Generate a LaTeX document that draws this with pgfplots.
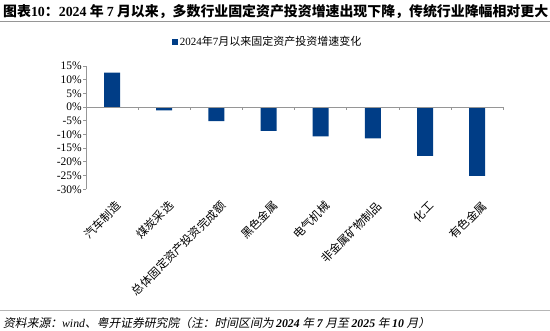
\documentclass[border=0pt]{standalone}
\usepackage{graphicx}
\usepackage{pgfplots}
\pgfplotsset{compat=1.18}
\usepackage{pgfplotstable}
\usepackage{fontspec}
\setmainfont{Liberation Serif}
\newfontfamily\cjk{Noto Sans CJK SC}
\newfontfamily\cjkit[FakeSlant=0.2]{Noto Sans CJK SC}
\definecolor{barblue}{RGB}{0,61,134}
\definecolor{axgray}{RGB}{150,150,150}
\pgfplotstableread{
x y
0 12.6
1 -1.2
2 -5.1
3 -8.7
4 -10.7
5 -11.4
6 -17.8
7 -25.1
}\datatable
\begin{document}
\begin{tikzpicture}
\useasboundingbox (0,0) rectangle (550bp,331bp);
% title
\node[anchor=west, inner sep=0] at (3bp,319bp) {\resizebox{545bp}{!}{\cjk\bfseries\fontsize{13.5bp}{15bp}\selectfont 图表{\rmfamily\bfseries 10}：{\rmfamily\bfseries 2024} 年 {\rmfamily\bfseries 7} 月以来，多数行业固定资产投资增速出现下降，传统行业降幅相对更大}};
\draw[axgray, line width=1bp] (0,309bp) -- (550bp,309bp);
% footer
\draw[axgray!70, line width=0.8bp] (0,21bp) -- (550bp,21bp);
\node[anchor=west, inner sep=0] at (3bp,8.3bp) {\resizebox{427bp}{!}{\cjkit\fontsize{11bp}{13bp}\selectfont 资料来源：{\rmfamily\itshape wind}、粤开证券研究院（注：时间区间为 {\rmfamily\bfseries\itshape 2024} 年 {\rmfamily\bfseries\itshape 7} 月至 {\rmfamily\bfseries\itshape 2025} 年 {\rmfamily\bfseries\itshape 10} 月）}};
\begin{axis}[
  at={(86bp,141.7bp)}, anchor=south west,
  scale only axis, width=417.3bp, height=123.3bp,
  xmin=-0.5, xmax=7.5, ymin=-30, ymax=15,
  axis x line*=bottom, axis y line*=left,
  x axis line style={draw=none},
  y axis line style={axgray, line width=0.8bp},
  xtick={0,...,7},
  xticklabels={汽车制造,煤炭采选,总体固定资产投资完成额,黑色金属,电气机械,非金属矿物制品,化工,有色金属},
  xtick style={draw=none},
  xticklabel style={rotate=45, anchor=east, inner sep=0, yshift=-13bp, xshift=-3bp, font=\cjk\fontsize{11.5bp}{13bp}\selectfont},
  ytick={-30,-25,...,15},
  yticklabel={\pgfmathprintnumber{\tick}\%},
  yticklabel style={font=\fontsize{11.5bp}{13bp}\selectfont, inner sep=1bp},
  /pgf/number format/assume math mode=true,
  ytick style={axgray, line width=0.8bp},
  tick align=outside, major tick length=3bp,
  legend style={at={(0.435,1.195)}, anchor=center, draw=none, fill=none, inner sep=0,
    font=\cjk\fontsize{11bp}{13bp}\selectfont},
  clip=false,
]
\addplot[ybar, bar width=16bp, fill=barblue, draw=none,
  legend image code/.code={\fill[barblue] (0bp,-3bp) rectangle (6bp,3bp);}]
  table[x=x,y=y] {\datatable};
\addlegendentry{{\rmfamily 2024}年{\rmfamily 7}月以来固定资产投资增速变化}
\draw[axgray, line width=0.8bp] (axis cs:-0.5,0) -- (axis cs:7.5,0);
\pgfplotsinvokeforeach{0.5,1.5,2.5,3.5,4.5,5.5,6.5,7.5}{
  \draw[axgray, line width=0.8bp] (axis cs:#1,0) -- ([yshift=-3bp]axis cs:#1,0);
}
\end{axis}
\end{tikzpicture}
\end{document}
